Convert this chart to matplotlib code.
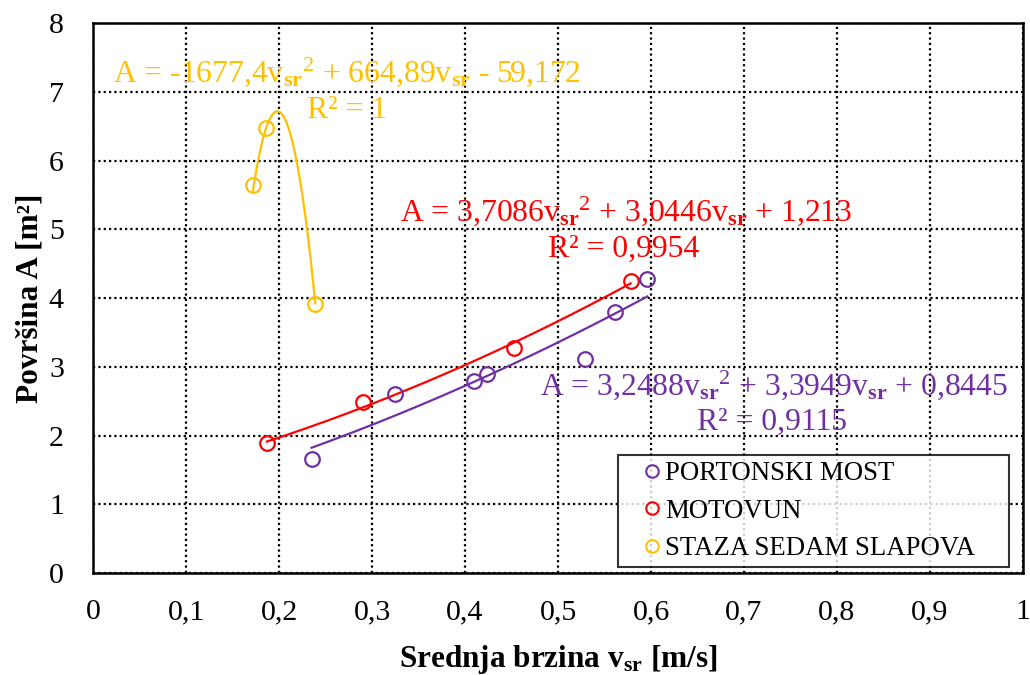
import numpy as np
import matplotlib
matplotlib.use('Agg')
import matplotlib.pyplot as plt
from matplotlib.lines import Line2D

plt.rcParams['font.family'] = ['Liberation Serif', 'DejaVu Serif']
plt.rcParams['mathtext.fontset'] = 'custom'
plt.rcParams['mathtext.rm'] = 'Liberation Serif'
plt.rcParams['mathtext.it'] = 'Liberation Serif:italic'
plt.rcParams['mathtext.bf'] = 'Liberation Serif:bold'

# measured points
port_v = [0.235, 0.325, 0.410, 0.424, 0.529, 0.561, 0.596]
port_a = [1.66, 2.60, 2.80, 2.89, 3.11, 3.80, 4.27]
moto_v = [0.187, 0.290, 0.453, 0.578]
moto_a = [1.89, 2.49, 3.28, 4.25]
staza_v = [0.172, 0.186, 0.239]
staza_a = [5.65, 6.47, 3.92]

# trendline coefficients (from chart labels)
port_c = [3.2488, 3.3949, 0.8445]
moto_c = [3.7086, 3.0446, 1.213]
staza_c = [-1677.4, 664.89, -59.172]

names = ['PORTONSKI MOST', 'MOTOVUN', 'STAZA SEDAM SLAPOVA']
colors = ['#7030A0', '#FF0000', '#FFC000']

x_ticks = [0, 0.1, 0.2, 0.3, 0.4, 0.5, 0.6, 0.7, 0.8, 0.9, 1.0]
x_labels = ['0', '0,1', '0,2', '0,3', '0,4', '0,5', '0,6', '0,7', '0,8', '0,9', '1']
y_ticks = [0, 1, 2, 3, 4, 5, 6, 7, 8]

fig = plt.figure(figsize=(10.3, 6.75), dpi=100)
ax = fig.add_axes([0.0903, 0.1511, 0.9029, 0.8148])

series = [(port_v, port_a, port_c), (moto_v, moto_a, moto_c), (staza_v, staza_a, staza_c)]
for (v, a, c), col in zip(series, colors):
    xx = np.linspace(min(v), max(v), 200)
    ax.plot(xx, np.polyval(c, xx), color=col, lw=1.6, zorder=3)
    ax.plot(v, a, 'o', mfc='none', mec=col, mew=1.6, ms=10.5, zorder=4)

ax.set_xlim(0, 1)
ax.set_ylim(0, 8)
ax.set_xticks(x_ticks)
ax.set_xticklabels(x_labels)
ax.set_yticks(y_ticks)
ax.tick_params(length=0, labelsize=21.5)
ax.tick_params(axis='x', pad=19)
ax.tick_params(axis='y', pad=21)
ax.grid(True, color='black', linestyle=(0, (1, 1.4)), lw=1.6)
ax.set_axisbelow(True)
for sp in ax.spines.values():
    sp.set_color('black')
    sp.set_linewidth(1.8)

ax.set_xlabel(r'Srednja brzina v$_{\mathbf{sr}}$ [m/s]', fontsize=22.5, fontweight='bold')
ax.set_ylabel('Površina A [m²]', fontsize=22.5, fontweight='bold')
ax.xaxis.set_label_coords(0.5, -0.128)
ax.yaxis.set_label_coords(-0.052, 0.5)

sq = r'v$_{\mathbf{sr}}$$^{2}$'
vs = r'v$_{\mathbf{sr}}$'
fs = 22.8
ax.text(0.0215, 7.146, 'A = -1677,4' + sq + ' + 664,89' + vs + ' - 59,172',
        color=colors[2], fontsize=fs, va='baseline')
ax.text(0.230, 6.62, 'R² = 1', color=colors[2], fontsize=fs, va='baseline')
ax.text(0.330, 5.125, 'A = 3,7086' + sq + ' + 3,0446' + vs + ' + 1,213',
        color=colors[1], fontsize=fs, va='baseline')
ax.text(0.489, 4.60, 'R² = 0,9954', color=colors[1], fontsize=fs, va='baseline')
ax.text(0.4806, 2.589, 'A = 3,2488' + sq + ' + 3,3949' + vs + ' + 0,8445',
        color=colors[0], fontsize=fs, va='baseline')
ax.text(0.649, 2.08, 'R² = 0,9115', color=colors[0], fontsize=fs, va='baseline')

handles = [Line2D([], [], marker='o', ls='none', mfc='none', mec=c, mew=1.5, ms=9) for c in colors]
leg = ax.legend(handles, names, loc='lower left', bbox_to_anchor=(0.5645, 0.011, 0.4205, 0.202),
                mode='expand', fontsize=19.3, frameon=True, fancybox=False, handletextpad=-0.55,
                handlelength=2.1, borderaxespad=0, labelspacing=0.465, borderpad=0.22)
leg.get_frame().set_edgecolor('black')
leg.get_frame().set_linewidth(1.5)

fig.savefig('out.png', dpi=100)
